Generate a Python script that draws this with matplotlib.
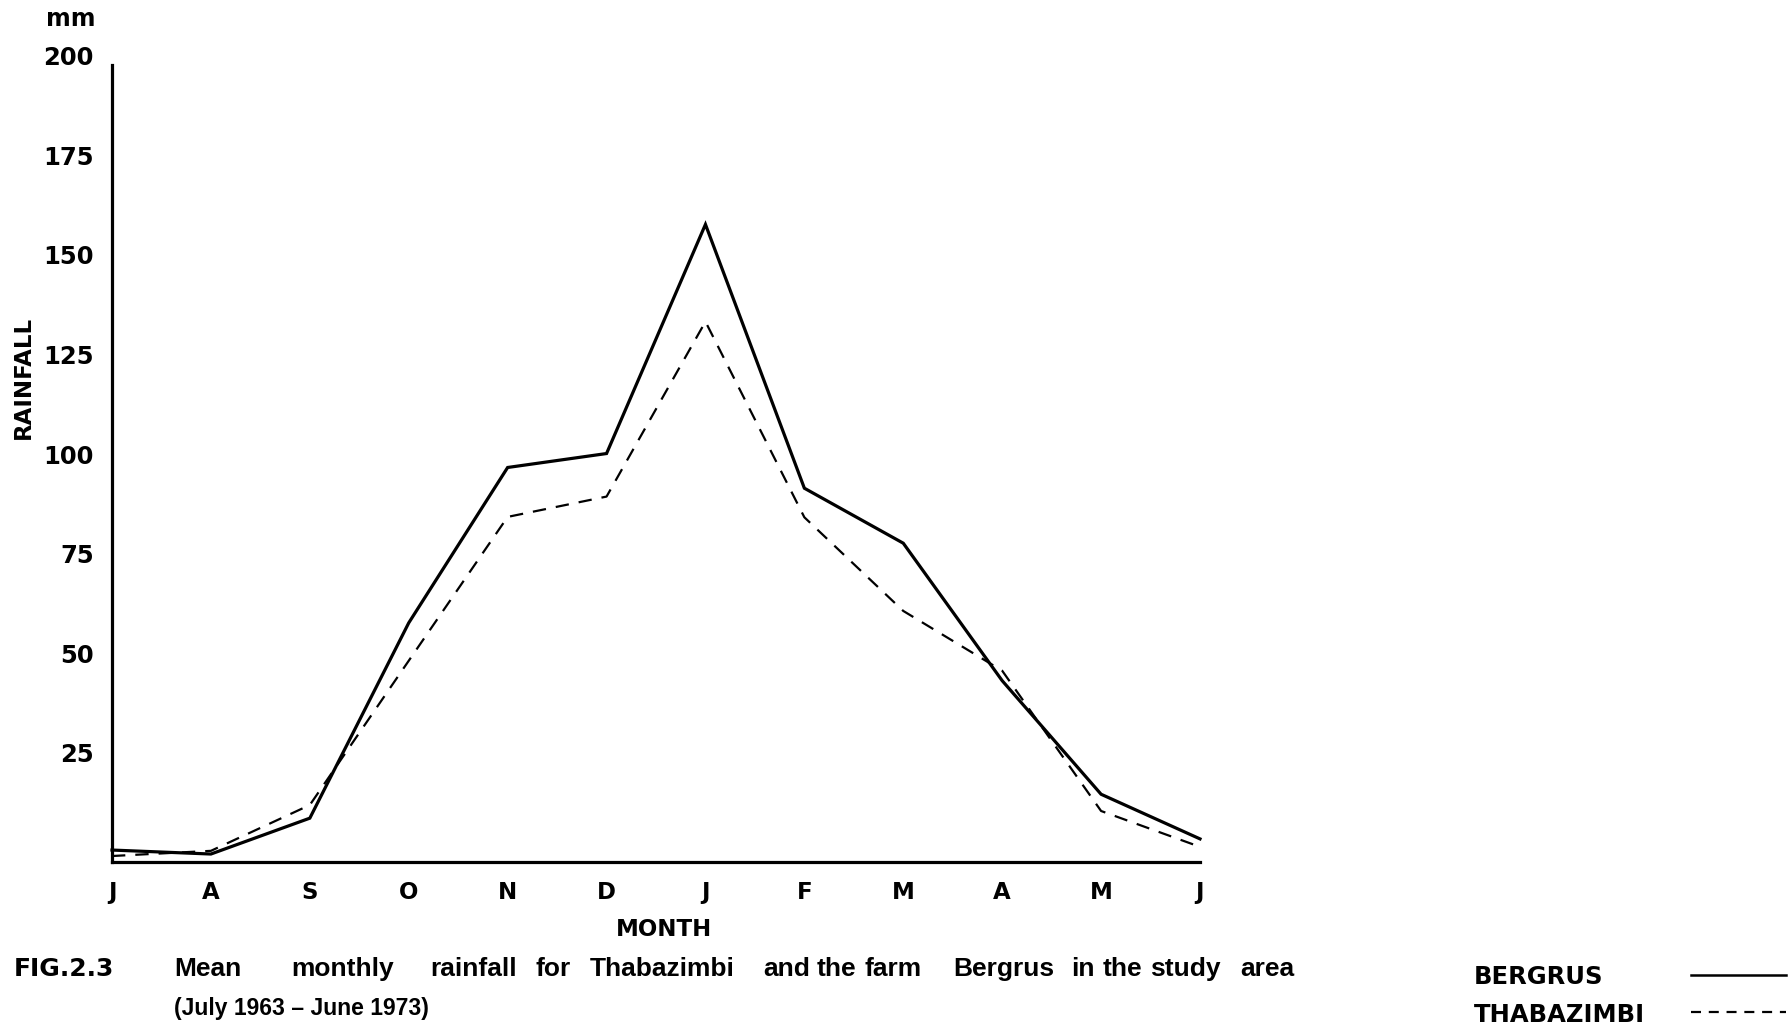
import matplotlib
matplotlib.use("Agg")
import matplotlib.pyplot as plt
from matplotlib.lines import Line2D

# Mean monthly rainfall (mm), July 1963 - June 1973
months = ["J", "A", "S", "O", "N", "D", "J", "F", "M", "A", "M", "J"]
bergrus = [3.0, 2.0, 11.0, 60.0, 99.0, 102.5, 160.0, 93.8, 80.0, 45.5, 17.0, 5.8]
thabazimbi = [1.5, 2.8, 14.3, 50.5, 86.6, 91.7, 135.6, 86.5, 63.0, 48.0, 12.8, 3.8]
y_ticks = [25, 50, 75, 100, 125, 150, 175, 200]

W, H = 1792, 1031
LABEL_FONT = ["DejaVu Sans"]
CAPTION_FONT = ["Liberation Sans", "DejaVu Sans"]


def fx(px):
    return px / W


def fy(py):
    return 1 - py / H


fig = plt.figure(figsize=(W / 100, H / 100), dpi=100)
fig.patch.set_facecolor("white")

ax = fig.add_axes([fx(112), fy(862), (1200 - 112) / W, (862 - 65) / H])
x = list(range(len(months)))

ax.plot(x, bergrus, color="black", lw=2.3, solid_joinstyle="miter", clip_on=False)
ax.plot(x, thabazimbi, color="black", lw=1.6, dashes=(6, 4.5), clip_on=False)

ax.set_xlim(0, len(months) - 1)
ax.set_ylim(0, 200)

for side in ("top", "right"):
    ax.spines[side].set_visible(False)
for side in ("left", "bottom"):
    ax.spines[side].set_linewidth(2.3)
    ax.spines[side].set_color("black")

ax.set_yticks(y_ticks)
ax.set_yticklabels([str(v) for v in y_ticks])
ax.set_xticks(x)
ax.set_xticklabels(months)
ax.tick_params(axis="y", length=0, pad=13)
ax.tick_params(axis="x", length=0, pad=14)
for lbl in ax.get_yticklabels():
    lbl.set_fontfamily(LABEL_FONT)
    lbl.set_fontweight("bold")
    lbl.set_fontsize(17.5)
    lbl.set_va("baseline")
for lbl in ax.get_xticklabels():
    lbl.set_fontfamily(LABEL_FONT)
    lbl.set_fontweight("bold")
    lbl.set_fontsize(16.5)

# Axis titles
fig.text(fx(71), fy(19), "mm", family=LABEL_FONT, weight="bold", fontsize=17,
         ha="center", va="center")
fig.text(fx(23), fy(377), "RAINFALL", family=LABEL_FONT, weight="bold", fontsize=16.5,
         ha="center", va="center", rotation=90)
fig.text(fx(664), fy(929), "MONTH", family=LABEL_FONT, weight="bold", fontsize=16.5,
         ha="center", va="center")

# Figure caption, set word by word with the wide spacing of the lettering
fig.text(fx(14), fy(969), "FIG.2.3", family=LABEL_FONT, weight="bold", fontsize=18,
         ha="left", va="center")
caption_words = [
    (174, "Mean"), (291, "monthly"), (430, "rainfall"), (536, "for"),
    (590, "Thabazimbi"), (763, "and"), (817, "the"), (864, "farm"),
    (953, "Bergrus"), (1071, "in"), (1103, "the"), (1150, "study"), (1240, "area"),
]
for px, word in caption_words:
    fig.text(fx(px), fy(969), word, family=CAPTION_FONT, weight="bold", fontsize=19,
             ha="left", va="center")
fig.text(fx(174), fy(1009), "(July 1963 \u2013 June 1973)", family=CAPTION_FONT,
         weight="bold", fontsize=16.5, ha="left", va="center")

# Key
fig.text(fx(1474), fy(977), "BERGRUS", family=LABEL_FONT, weight="bold", fontsize=17.5,
         ha="left", va="center")
fig.text(fx(1474), fy(1015), "THABAZIMBI", family=LABEL_FONT, weight="bold", fontsize=17.5,
         ha="left", va="center")
fig.add_artist(Line2D([fx(1691), fx(1786)], [fy(975), fy(975)], transform=fig.transFigure,
                      color="black", lw=1.8))
fig.add_artist(Line2D([fx(1691), fx(1786)], [fy(1012), fy(1012)], transform=fig.transFigure,
                      color="black", lw=1.6, dashes=(4.5, 3.5)))

fig.savefig("out.png", dpi=100, facecolor="white")
